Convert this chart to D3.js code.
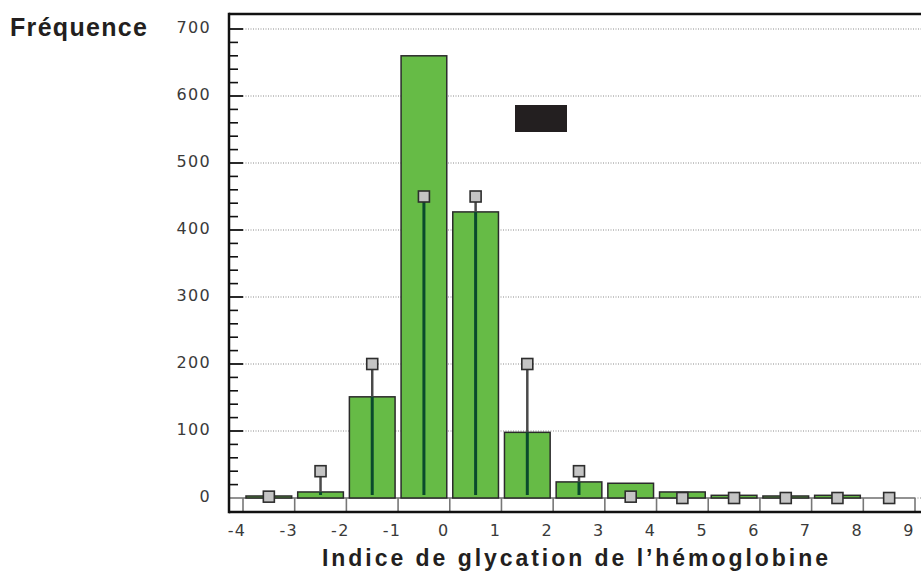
<!DOCTYPE html>
<html>
<head>
<meta charset="utf-8">
<script src="https://cdn.jsdelivr.net/npm/d3@7"></script>
<style>
    body { margin: 0; background: #fff; }
    svg { display: block; }
</style>
</head>
<body>
<div id="chart"></div>
<script>
'use strict';

// bins: left edge of each class of width 1
const binStarts = [-4, -3, -2, -1, 0, 1, 2, 3, 4, 5, 6, 7, 8];
// observed frequency (green bars)
const observed = [3, 9, 151, 660, 427, 98, 24, 22, 9, 4, 3, 4, 0];
// expected frequency (grey squares)
const expected = [2, 40, 200, 450, 450, 200, 40, 2, 0, 0, 0, 0, 0];

const xTicks = [-4, -3, -2, -1, 0, 1, 2, 3, 4, 5, 6, 7, 8, 9];
const yTicks = [0, 100, 200, 300, 400, 500, 600, 700];
const yMinorTicks = d3.range(20, 701, 20);

const yTitle = 'Fréquence';
const xTitle = 'Indice de glycation de l’hémoglobine';

const w = 921;
const h = 572;

const svg = d3.select('#chart')
    .append('svg')
    .attr('width', w)
    .attr('height', h);

// frame
const frame = {left: 229, top: 14, bottom: 512, right: w + 2};

const xScale = d3.scaleLinear()
    .domain([-4, 9])
    .range([243, 915]);

const yScale = d3.scaleLinear()
    .domain([0, 700])
    .range([498, 29]);

const data = binStarts.map((b, i) => ({x0: b, x1: b + 1, obs: observed[i], exp: expected[i]}));

// dotted grid
svg.append('g')
    .selectAll('line')
    .data(yTicks.filter(d => d > 0))
    .join('line')
    .attr('x1', xScale(-4))
    .attr('x2', frame.right)
    .attr('y1', d => yScale(d))
    .attr('y2', d => yScale(d))
    .attr('stroke', '#8a8a8a')
    .attr('stroke-width', 1)
    .attr('stroke-dasharray', '1,1.5');

// zero line + class boxes under the baseline
svg.append('line')
    .attr('x1', frame.left)
    .attr('x2', xScale(9))
    .attr('y1', yScale(0))
    .attr('y2', yScale(0))
    .attr('stroke', '#6e6e6e')
    .attr('stroke-width', 1.5);

svg.append('line')
    .attr('x1', xScale(9))
    .attr('x2', frame.right)
    .attr('y1', yScale(0))
    .attr('y2', yScale(0))
    .attr('stroke', '#8a8a8a')
    .attr('stroke-dasharray', '1,1.5');

svg.append('g')
    .selectAll('line')
    .data(xTicks)
    .join('line')
    .attr('x1', d => xScale(d))
    .attr('x2', d => xScale(d))
    .attr('y1', yScale(0))
    .attr('y2', frame.bottom)
    .attr('stroke', '#777')
    .attr('stroke-width', 1.6);

// bars
const inset = 3;
svg.append('g')
    .selectAll('rect')
    .data(data)
    .join('rect')
    .attr('x', d => xScale(d.x0) + (d.obs > 0 ? inset : 0))
    .attr('width', d => xScale(d.x1) - xScale(d.x0) - (d.obs > 0 ? 2 * inset : 0))
    .attr('y', d => yScale(d.obs))
    .attr('height', d => yScale(0) - yScale(d.obs))
    .attr('fill', '#66bb46')
    .attr('stroke', '#2b2b2b')
    .attr('stroke-width', 1.5);

// stems: grey above the bar, dark green inside it
const stems = svg.append('g');
data.forEach(d => {
    const cx = xScale((d.x0 + d.x1) / 2);
    if (d.exp > d.obs) {
        stems.append('line')
            .attr('x1', cx).attr('x2', cx)
            .attr('y1', yScale(d.exp))
            .attr('y2', yScale(d.obs))
            .attr('stroke', '#4a4a4a')
            .attr('stroke-width', 2.5);
    }
    const top = Math.min(d.exp, d.obs);
    if (top > 4) {
        stems.append('line')
            .attr('x1', cx).attr('x2', cx)
            .attr('y1', yScale(top))
            .attr('y2', yScale(0) - 3)
            .attr('stroke', '#0a4a2c')
            .attr('stroke-width', 3);
    }
});

// squares
const sq = 11;
svg.append('g')
    .selectAll('rect')
    .data(data)
    .join('rect')
    .attr('x', d => xScale((d.x0 + d.x1) / 2) - sq / 2)
    .attr('y', d => yScale(d.exp) - sq / 2)
    .attr('width', sq)
    .attr('height', sq)
    .attr('fill', '#c4c4c4')
    .attr('stroke', '#2e2e2e')
    .attr('stroke-width', 1.6);

// black box
svg.append('rect')
    .attr('x', 515)
    .attr('y', 105)
    .attr('width', 52)
    .attr('height', 27)
    .attr('fill', '#231f20');

// y ticks
svg.append('g')
    .selectAll('line')
    .data(yMinorTicks.filter(d => d % 100 !== 0))
    .join('line')
    .attr('x1', frame.left)
    .attr('x2', frame.left + 9)
    .attr('y1', d => yScale(d))
    .attr('y2', d => yScale(d))
    .attr('stroke', '#111')
    .attr('stroke-width', 1.6);

svg.append('g')
    .selectAll('line')
    .data(yTicks.filter(d => d > 0))
    .join('line')
    .attr('x1', frame.left)
    .attr('x2', xScale(-4))
    .attr('y1', d => yScale(d))
    .attr('y2', d => yScale(d))
    .attr('stroke', '#111')
    .attr('stroke-width', 1.8);

// frame lines
svg.append('line')
    .attr('x1', frame.left).attr('x2', frame.left)
    .attr('y1', frame.top - 1.25).attr('y2', frame.bottom + 1.25)
    .attr('stroke', '#111').attr('stroke-width', 2.5);
svg.append('line')
    .attr('x1', frame.left).attr('x2', frame.right)
    .attr('y1', frame.top).attr('y2', frame.top)
    .attr('stroke', '#111').attr('stroke-width', 2.5);
svg.append('line')
    .attr('x1', frame.left).attr('x2', frame.right)
    .attr('y1', frame.bottom).attr('y2', frame.bottom)
    .attr('stroke', '#111').attr('stroke-width', 2.5);

// tick labels
svg.append('g')
    .selectAll('text')
    .data(yTicks)
    .join('text')
    .attr('x', 211)
    .attr('y', d => yScale(d) - 2)
    .attr('dy', '0.35em')
    .attr('text-anchor', 'end')
    .attr('font-family', 'DejaVu Sans, Verdana, sans-serif')
    .attr('font-size', 16)
    .attr('letter-spacing', 1.3)
    .attr('fill', '#3a3a3a')
    .text(d => d);

svg.append('g')
    .selectAll('text')
    .data(xTicks)
    .join('text')
    .attr('x', d => xScale(d) - 6)
    .attr('y', 536)
    .attr('text-anchor', 'middle')
    .attr('font-family', 'DejaVu Sans, Verdana, sans-serif')
    .attr('font-size', 16)
    .attr('letter-spacing', 1.3)
    .attr('fill', '#3a3a3a')
    .text(d => d);

// titles
svg.append('text')
    .attr('x', 10)
    .attr('y', 36)
    .attr('font-family', 'Liberation Sans, Arial, sans-serif')
    .attr('font-weight', 'bold')
    .attr('font-size', 25)
    .attr('textLength', 137)
    .attr('lengthAdjust', 'spacing')
    .attr('fill', '#231f20')
    .text(yTitle);

svg.append('text')
    .attr('x', 322)
    .attr('y', 566)
    .attr('font-family', 'Liberation Sans, Arial, sans-serif')
    .attr('font-weight', 'bold')
    .attr('font-size', 23)
    .attr('textLength', 506)
    .attr('lengthAdjust', 'spacing')
    .attr('fill', '#231f20')
    .text(xTitle);
</script>
</body>
</html>
